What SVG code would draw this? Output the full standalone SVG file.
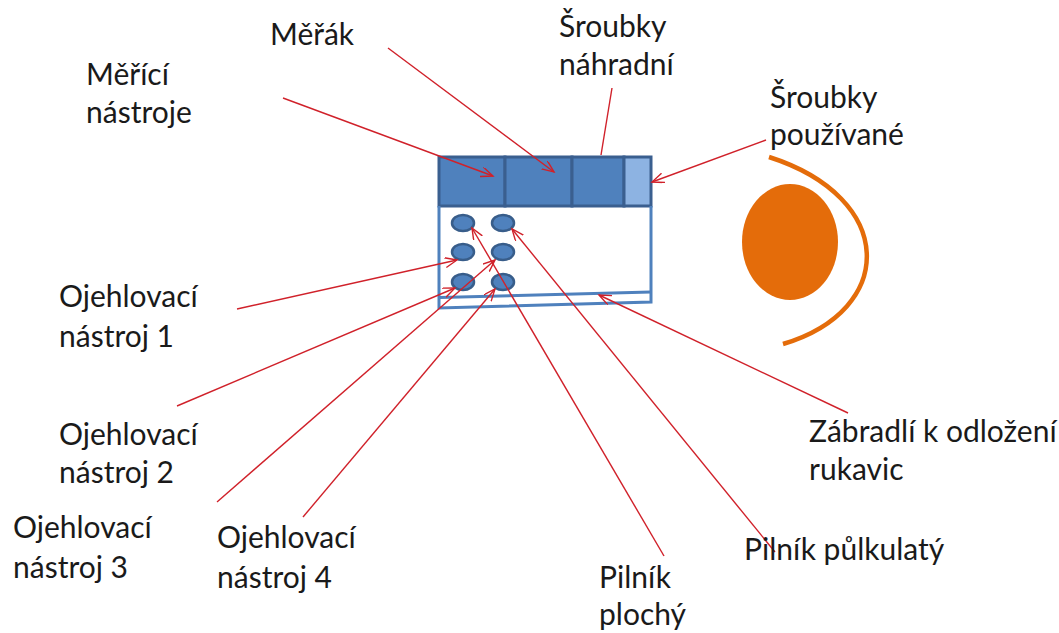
<svg xmlns="http://www.w3.org/2000/svg" width="1059" height="633" viewBox="0 0 1059 633">
  <style>
    .lbl { font-family: Lato, "Open Sans", "Liberation Sans", sans-serif; font-size: 30px; fill: #1a1a1a; }
    .cell { fill: #4F81BD; stroke: #3A5F8F; stroke-width: 3; }
    .cell-light { fill: #8DB3E2; stroke: #3A5F8F; stroke-width: 3; }
    .tray { fill: none; stroke: #4F81BD; stroke-width: 3; }
    .tool { fill: #4F81BD; stroke: #385D8A; stroke-width: 2.5; }
    .lead { fill: none; stroke: #D0212A; stroke-width: 1.4; }
    .glove { fill: #E46C0A; }
  </style>
  <defs>
    <marker id="head" markerUnits="userSpaceOnUse" markerWidth="14" markerHeight="12" refX="12" refY="5" orient="auto">
      <path d="M0,0 L12,5 L0,10" fill="none" stroke="#D0212A" stroke-width="1.4"/>
    </marker>
  </defs>

  <!-- tool tray -->
  <g id="tray">
    <g id="tray-compartments">
      <rect class="cell" x="439" y="157" width="66" height="49"/>
      <rect class="cell" x="505" y="157" width="67" height="49"/>
      <rect class="cell" x="572" y="157" width="52" height="49"/>
      <rect class="cell-light" x="624" y="157" width="27" height="49"/>
    </g>
    <path class="tray" d="M439,206 L439,308 L651,302 L651,206"/>
    <path id="glove-rail" class="tray" d="M440,297.5 L651,292" stroke-width="4.5"/>
  </g>

  <!-- deburring tools and files -->
  <g id="tools">
    <ellipse class="tool" cx="463" cy="223" rx="11" ry="8"/>
    <ellipse class="tool" cx="503" cy="223" rx="11" ry="8"/>
    <ellipse class="tool" cx="463" cy="252" rx="11" ry="8"/>
    <ellipse class="tool" cx="503" cy="252" rx="11" ry="8"/>
    <ellipse class="tool" cx="463" cy="282" rx="11" ry="8"/>
    <ellipse class="tool" cx="503" cy="282" rx="11" ry="8"/>
  </g>

  <!-- worker -->
  <g id="worker">
    <ellipse class="glove" cx="790" cy="242" rx="48" ry="58"/>
    <path d="M769,157 C897,198 897,310 783,344" fill="none" stroke="#E46C0A" stroke-width="4.5"/>
  </g>

  <!-- leader lines -->
  <g id="connectors">
    <line class="lead" x1="283" y1="98" x2="493" y2="176" marker-end="url(#head)"/>
    <line class="lead" x1="388" y1="48" x2="554" y2="172" marker-end="url(#head)"/>
    <line class="lead" x1="612" y1="88" x2="601" y2="155"/>
    <line class="lead" x1="766" y1="140" x2="652" y2="182" marker-end="url(#head)"/>
    <line class="lead" x1="237" y1="309" x2="457" y2="260" marker-end="url(#head)"/>
    <line class="lead" x1="177" y1="406" x2="455" y2="288" marker-end="url(#head)"/>
    <line class="lead" x1="217" y1="502" x2="495" y2="260" marker-end="url(#head)"/>
    <line class="lead" x1="303" y1="517" x2="495" y2="289" marker-end="url(#head)"/>
    <line class="lead" x1="664" y1="556" x2="472" y2="228" marker-end="url(#head)"/>
    <line class="lead" x1="775" y1="552" x2="512" y2="229" marker-end="url(#head)"/>
    <line class="lead" x1="848" y1="413" x2="599" y2="295" marker-end="url(#head)"/>
  </g>

  <!-- labels -->
  <g id="labels">
    <text class="lbl" x="270" y="45">Měřák</text>
    <text class="lbl"><tspan x="559" y="37">Šroubky</tspan><tspan x="559" y="75">náhradní</tspan></text>
    <text class="lbl"><tspan x="86" y="85">Měřící</tspan><tspan x="86" y="123">nástroje</tspan></text>
    <text class="lbl"><tspan x="770" y="108">Šroubky</tspan><tspan x="770" y="145">používané</tspan></text>
    <text class="lbl"><tspan x="59" y="307">Ojehlovací</tspan><tspan x="59" y="347">nástroj 1</tspan></text>
    <text class="lbl"><tspan x="59" y="445">Ojehlovací</tspan><tspan x="59" y="483">nástroj 2</tspan></text>
    <text class="lbl"><tspan x="13" y="538">Ojehlovací</tspan><tspan x="13" y="578">nástroj 3</tspan></text>
    <text class="lbl"><tspan x="217" y="548">Ojehlovací</tspan><tspan x="217" y="588">nástroj 4</tspan></text>
    <text class="lbl"><tspan x="809" y="442">Zábradlí k odložení</tspan><tspan x="809" y="480">rukavic</tspan></text>
    <text class="lbl" x="744" y="560">Pilník půlkulatý</text>
    <text class="lbl"><tspan x="599" y="588">Pilník</tspan><tspan x="599" y="625">plochý</tspan></text>
  </g>
</svg>
